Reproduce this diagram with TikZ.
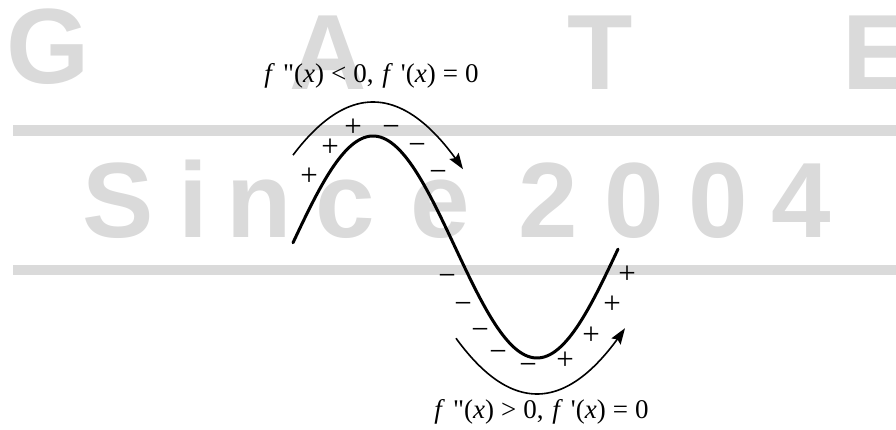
\documentclass[tikz,border=0pt]{standalone}
\usepackage{fontspec}
\setmainfont{Liberation Serif}
\newfontfamily\wmfont{Liberation Sans}
\usetikzlibrary{arrows.meta}
\definecolor{wm}{RGB}{218,218,218}
\newcommand\lbltext[1]{\textit{f}\hspace{0.3em}\textquotedbl(\textit{x})\hspace{0.26em}#1\hspace{0.26em}0,\hspace{0.32em}\textit{f}\hspace{0.3em}\textquotesingle(\textit{x})\hspace{0.26em}=\hspace{0.26em}0}
\tikzset{
  wmletter/.style={font=\wmfont\bfseries\fontsize{107}{107}\selectfont, text=wm, anchor=base, inner sep=0pt},
  wmbar/.style={fill=wm, draw=none},
  sign/.style={font=\fontsize{31}{31}\selectfont, inner sep=0pt, text height=15.5pt, text depth=0pt},
  lbl/.style={font=\fontsize{27}{27}\selectfont, anchor=base, inner sep=0pt},
  curve/.style={line width=3pt, line cap=round},
  motion/.style={line width=1.6pt, -{Stealth[length=16pt,width=11pt,inset=2.5pt]}},
}
\begin{document}
\begin{tikzpicture}[x=1pt,y=-1pt]
\useasboundingbox (0,0) rectangle (896,430);
% watermark
\fill[wmbar] (13,125) rectangle (896,136);
\fill[wmbar] (13,265) rectangle (896,275);
\node[wmletter] (wG) at (48,84) {G};
\node[wmletter] (wA) at (328,90) {A};
\node[wmletter] (wT) at (600,90) {T};
\node[wmletter] (wE) at (878,90) {E};
\node[wmletter] (wS) at (118,238) {S};
\node[wmletter] (wi) at (193,238) {i};
\node[wmletter] (wn) at (259,238) {n};
\node[wmletter] (wc) at (345,238) {c};
\node[wmletter] (we) at (440,238) {e};
\node[wmletter] (w2) at (548,238) {2};
\node[wmletter] (w0a) at (634,238) {0};
\node[wmletter] (w0b) at (718,238) {0};
\node[wmletter] (w4) at (801,238) {4};
% main curve
\draw[curve] plot[domain=293:618, samples=120, smooth] (\x, {247 - 111*cos(1.0976*(\x-373))});
% motion arcs
\draw[motion] plot[domain=293:463, samples=60, smooth] (\x, {102 + 0.0083*(\x-373)*(\x-373)});
\draw[motion] plot[domain=456:625, samples=60, smooth] (\x, {394 - 0.0085*(\x-537)*(\x-537)});
% labels
\node[lbl] (top) at (371.5,83) {\lbltext{<}};
\node[lbl] (bot) at (541.5,418) {\lbltext{>}};
% signs on the upper arc
\node[sign] (p1) at (309,178) {+};
\node[sign] (p2) at (330,149) {+};
\node[sign] (p3) at (353,129) {+};
\node[sign] (m1) at (391,129) {−};
\node[sign] (m2) at (417,147) {−};
\node[sign] (m3) at (438,174) {−};
% signs on the lower arc
\node[sign] (m4) at (447,278) {−};
\node[sign] (m5) at (463,306) {−};
\node[sign] (m6) at (480,332) {−};
\node[sign] (m7) at (498,354) {−};
\node[sign] (m8) at (528,367) {−};
\node[sign] (p4) at (565,362) {+};
\node[sign] (p5) at (591,337) {+};
\node[sign] (p6) at (612,306) {+};
\node[sign] (p7) at (627,276) {+};
\end{tikzpicture}
\end{document}
